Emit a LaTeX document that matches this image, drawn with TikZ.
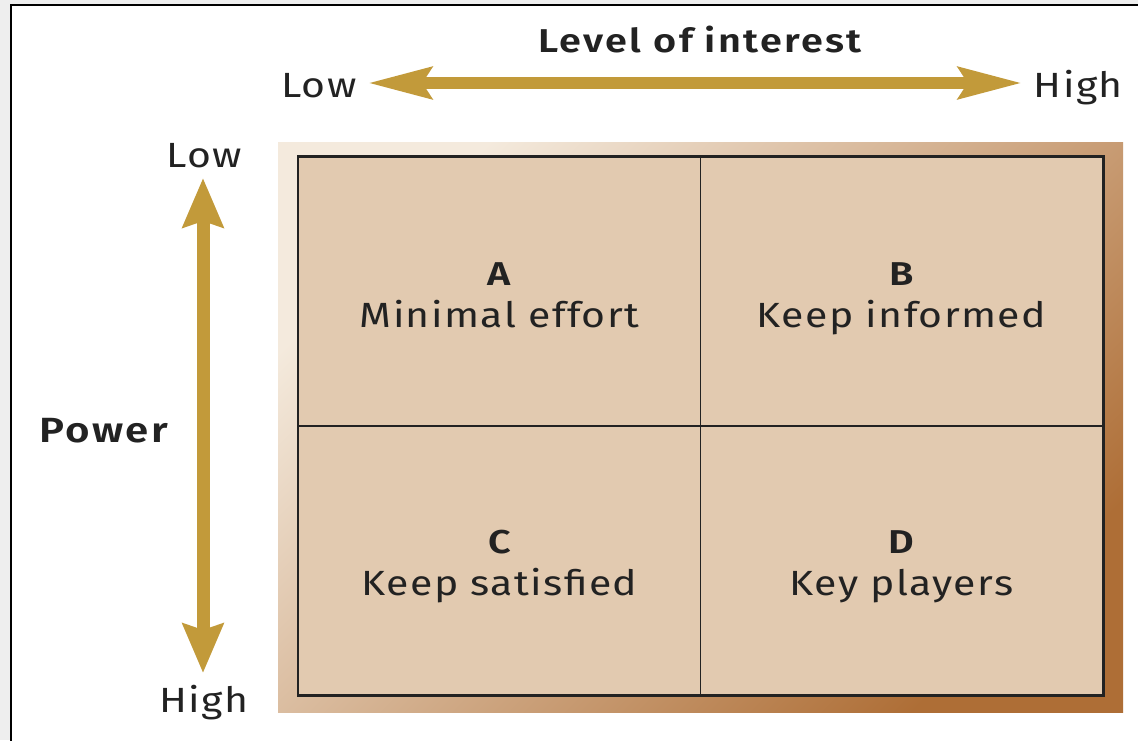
\documentclass[tikz,border=0pt]{standalone}
\usepackage{fontspec}
\setmainfont{Fira Sans}
\newfontfamily\labfont[LetterSpace=4,FakeStretch=1.17]{Fira Sans}
\newfontfamily\labbold[LetterSpace=7,FakeStretch=1.2]{Fira Sans SemiBold}
\usetikzlibrary{arrows.meta}
\definecolor{gold}{HTML}{C29A3A}
\definecolor{bggray}{HTML}{EEEEEE}
\definecolor{cream}{HTML}{F4EADD}
\definecolor{brownd}{HTML}{AE6E36}
\definecolor{cellfill}{HTML}{E2CAB0}
\definecolor{ink}{HTML}{222222}
\tikzset{
  txt/.style={inner sep=0pt, anchor=base, text=ink, font=\labfont\fontsize{35}{40}\selectfont},
  ttl/.style={inner sep=0pt, anchor=base, text=ink, font=\labbold\fontsize{33}{38}\selectfont},
  cell/.style={draw=ink, line width=1.8pt, fill=cellfill, minimum width=402pt, minimum height=269pt, inner sep=0pt},
  harrow/.style={draw=gold, line width=12pt, {Stealth[length=63pt 0,width=31pt 0,inset=9pt]}-{Stealth[length=63pt 0,width=31pt 0,inset=9pt]}},
  varrow/.style={draw=gold, line width=13pt, {Stealth[length=49pt 0,width=40pt 0,inset=6pt]}-{Stealth[length=49pt 0,width=40pt 0,inset=6pt]}}
}
\begin{document}
\begin{tikzpicture}[x=1pt,y=-1pt]
\useasboundingbox (0,0) rectangle (1138,740);
\fill[bggray] (0,0) rectangle (1138,740);
\draw[fill=white, line width=1.5pt] (11,5) rectangle (1150,752);
% gradient frame
\shade[top color=cream, bottom color=brownd, shading angle=45] (278,142) rectangle (1123,712);
% cells
\node[cell] (A) at (499.5,291.5) {};
\node[cell] (B) at (901.5,291.5) {};
\node[cell] (C) at (499.5,560.5) {};
\node[cell] (D) at (901.5,560.5) {};
\draw[ink, line width=2.2pt] (A.north west) rectangle (D.south east);
% cell texts
\node[ttl] (Al) at (499.5,285) {A};
\node[txt] (At) at (499.5,327) {Minimal effort};
\node[ttl] (Bl) at (901.5,285) {B};
\node[txt] (Bt) at (901.5,327) {Keep informed};
\node[ttl] (Cl) at (499.5,553) {C};
\node[txt] (Ct) at (499.5,595) {Keep satisfied};
\node[ttl] (Dl) at (901.5,553) {D};
\node[txt] (Dt) at (901.5,595) {Key players};
% axis titles
\node[ttl] (interest) at (700,52) {Level of interest};
\node[ttl, anchor=base west, font=\labbold\fontsize{35}{40}\selectfont] (power) at (39,442) {Power};
% axis ends
\node[txt, anchor=base west] (lowx) at (281,97) {Low};
\node[txt, anchor=base east] (highx) at (1123,97) {High};
\node[txt] (lowy) at (204,167) {Low};
\node[txt] (highy) at (204,712) {High};
% arrows
\coordinate (hl) at (368,83);
\coordinate (hr) at (1022,83);
\coordinate (vt) at (203,178);
\coordinate (vb) at (203,673);
\draw[harrow] (hl) -- (hr);
\draw[varrow] (vt) -- (vb);
\end{tikzpicture}
\end{document}
